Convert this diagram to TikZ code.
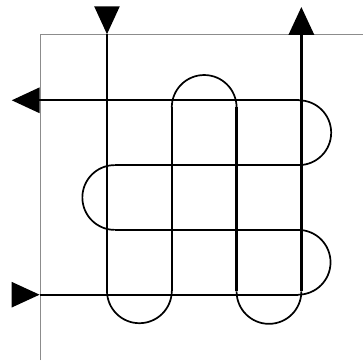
\documentclass[tikz,border=0pt]{standalone}
\usepackage{xcolor}
\definecolor{framegray}{HTML}{8C8C8C}
\usetikzlibrary{arrows.meta}
\tikzset{
  >={Triangle[length=4.3mm,width=3.9mm]},
  frame/.style ={draw=framegray,line width=0.5pt},
  strand/.style={draw=black,line width=1pt},
  loop/.style  ={draw=black,line width=0.75pt},
  tip/.style   ={->,draw=black,line width=0.6pt},
}

\begin{document}
\begin{tikzpicture}[x=1cm,y=1cm]
\useasboundingbox (-1.651,-1.008) rectangle (3.951,4.548);
% frame
\draw[frame] (-1.03,-1.008) -- (-1.03,4.02) -- (3.951,4.02);
% horizontal strand
\draw[tip] (-1.45,0) -- (-1.04,0);
\draw[strand] (-1.04,0) -- (2.95,0);
\draw[loop] (2.95,0) arc[start angle=-90,end angle=90,radius=0.5];
\draw[strand] (2.95,1) -- (0.12,1);
\draw[loop] (0.12,1) arc[start angle=-90,end angle=-270,radius=0.5];
\draw[strand] (0.12,2) -- (2.96,2);
\draw[loop] (2.96,2) arc[start angle=-90,end angle=90,radius=0.5];
\draw[strand,->] (2.96,3) -- (-1.47,3);
% vertical strand
\draw[tip] (0,4.44) -- (0,4.02);
\draw[strand] (0,4.02) -- (0,0.06);
\draw[loop] (0,0.06) arc[start angle=180,end angle=360,radius=0.5];
\draw[strand] (1,0.06) -- (1,2.89);
\draw[loop] (1,2.89) arc[start angle=180,end angle=0,radius=0.5];
\draw[strand] (2,2.89) -- (2,0.05);
\draw[loop] (2,0.05) arc[start angle=180,end angle=360,radius=0.5];
\draw[strand,->] (3,0.05) -- (3,4.44);
\end{tikzpicture}
\end{document}
